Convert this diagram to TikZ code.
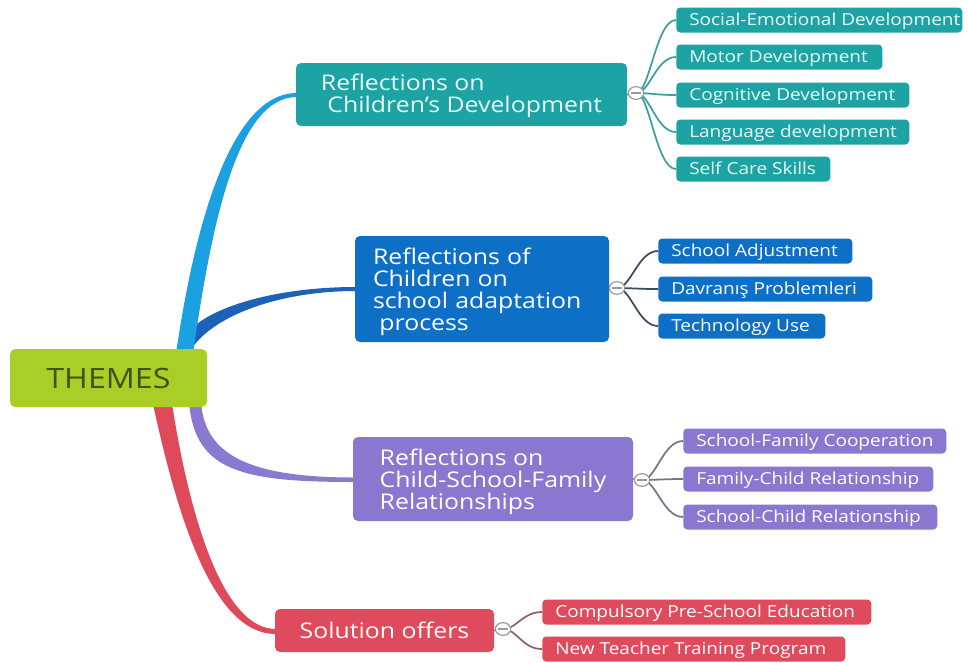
\documentclass[tikz,border=0pt]{standalone}
\usepackage{fontspec}
\setmainfont{Open Sans}[FakeStretch=1.15]
\usetikzlibrary{calc,shapes.geometric}
\pgfdeclarelayer{bg}
\pgfsetlayers{bg,main}

% palette
\definecolor{limefill}{HTML}{AACE28}
\definecolor{olivetext}{HTML}{435210}
\definecolor{tealfill}{HTML}{1DA3A4}
\definecolor{tealtext}{HTML}{E8FBFB}
\definecolor{bluefill}{HTML}{0E6FC7}
\definecolor{purplefill}{HTML}{8A78D0}
\definecolor{redfill}{HTML}{DF4B5C}
\definecolor{skybranch}{HTML}{1BA1E2}
\definecolor{navybranch}{HTML}{1D62B8}
\definecolor{purplebranch}{HTML}{8A79D1}
\definecolor{redbranch}{HTML}{DF4A5B}
\definecolor{tealtwig}{HTML}{3E9FA3}
\definecolor{bluetwig}{HTML}{3A4C60}
\definecolor{purpletwig}{HTML}{77758A}
\definecolor{redtwig}{HTML}{8C6468}
\definecolor{knobgray}{HTML}{9A9A9A}

% type sizes
\newcommand\fsub{\fontsize{12.4pt}{14pt}\selectfont}
\newcommand\fmain{\fontsize{16.2pt}{16.5pt}\selectfont}
\newcommand\ftheme{\fontsize{21pt}{24pt}\selectfont}
% fixed-width, left-aligned label of a leaf box
\newcommand\lb[2]{\makebox[#1pt][l]{#2}}

\tikzset{
  themebox/.style={fill=limefill, text=olivetext, rounded corners=4pt,
    minimum width=147.75pt, minimum height=43.5pt, inner sep=0, font=\ftheme},
  mainbox/.style={fill=#1, text=white, rounded corners=3.75pt, align=left,
    inner sep=0, font=\fmain},
  leafbox/.style={fill=#1, text=white, rounded corners=3pt, anchor=west,
    minimum height=18.75pt, inner xsep=9.75pt, inner ysep=0, font=\fsub,
    text height=10pt, text depth=2pt},
  knob/.style={ellipse, draw=knobgray, fill=white, line width=0.9pt,
    minimum width=11.5pt, minimum height=9.5pt, inner sep=0},
  twig/.style={draw=#1, line width=1.3pt},
}

\begin{document}
\begin{tikzpicture}[x=0.75pt, y=-0.75pt]
\path[use as bounding box] (0,0) rectangle (968,662);

% central theme
\node[themebox] (themes) at (108.5,378) {THEMES};

% main branches
\node[mainbox=tealfill, text=tealtext, minimum width=248.25pt, minimum height=47.25pt]
  (children) at (461.5,94.5) {\rule{0pt}{14pt}Reflections on\\\hspace*{.3em}Children's Development};
\node[mainbox=bluefill, minimum width=190.5pt, minimum height=79.5pt, text width=163.5pt]
  (adapt) at (482,289) {\rule{0pt}{17pt}Reflections of\\Children on\\school adaptation\\\hspace*{.3em}process};
\node[mainbox=purplefill, minimum width=210pt, minimum height=63pt]
  (family) at (493,479) {\rule{0pt}{16pt}Reflections on\\Child-School-Family\\Relationships};
\node[mainbox=redfill, minimum width=164.25pt, minimum height=32.25pt]
  (solution) at (384.5,630.5) {Solution offers};

% collapse knobs
\node[knob] (k1) at (636,93) {};
\node[knob] (k2) at (617,288) {};
\node[knob] (k3) at (642,480) {};
\node[knob] (k4) at (503,629) {};
\foreach \k in {k1,k2,k3,k4}
  \draw[knobgray, line width=0.9pt] ([xshift=-3.6pt]\k.center) -- ([xshift=3.6pt]\k.center);

% leaves: development
\node[leafbox=tealfill, text=tealtext] (d1) at (676,20)  {\lb{195}{Social-Emotional Development}};
\node[leafbox=tealfill, text=tealtext] (d2) at (676,57)  {\lb{135}{Motor Development}};
\node[leafbox=tealfill, text=tealtext] (d3) at (676,95)  {\lb{155.25}{Cognitive Development}};
\node[leafbox=tealfill, text=tealtext] (d4) at (676,132) {\lb{155.25}{Language development}};
\node[leafbox=tealfill, text=tealtext] (d5) at (676,169) {\lb{96}{Self Care Skills}};
% leaves: adaptation
\node[leafbox=bluefill] (a1) at (658,251) {\lb{126}{School Adjustment}};
\node[leafbox=bluefill] (a2) at (658,289) {\lb{141}{Davranış Problemleri}};
\node[leafbox=bluefill] (a3) at (658,326) {\lb{105.75}{Technology Use}};
% leaves: relationships
\node[leafbox=purplefill] (f1) at (683,441) {\lb{177.75}{School-Family Cooperation}};
\node[leafbox=purplefill] (f2) at (683,479) {\lb{168}{Family-Child Relationship}};
\node[leafbox=purplefill] (f3) at (683,517) {\lb{171}{School-Child Relationship}};
% leaves: solutions
\node[leafbox=redfill] (r1) at (542,612) {\lb{227.25}{Compulsory Pre-School Education}};
\node[leafbox=redfill] (r2) at (542,649) {\lb{207.75}{New Teacher Training Program}};

\begin{pgfonlayer}{bg}
  \fill[white] (0,0) rectangle (968,662);

  % tapered branches from the central theme
  \fill[navybranch] ($(themes.north east)+(-15,-1)$) .. controls +(23,-33) and +(-75,0) .. ($(adapt.west)+(1,2)$)
    -- ($(adapt.west)+(1,-2)$) .. controls +(-75,0) and +(25,-25) .. ($(themes.north east)+(-17,-19)$) -- cycle;
  \fill[skybranch] ($(themes.north east)+(-31,3)$) .. controls +(19,-130) and +(-65,0) .. ($(children.west)+(1,-1.5)$)
    -- ($(children.west)+(1,2.5)$) .. controls +(-60,0) and +(18,-125) .. ($(themes.north east)+(-14,3)$) -- cycle;
  \fill[purplebranch] ($(themes.south east)+(-18,-2)$) .. controls +(7,65) and +(-113,0) .. ($(family.west)+(1,3)$)
    -- ($(family.west)+(1,-1.5)$) .. controls +(-113,0) and +(5,45) .. ($(themes.south east)+(-6,-2)$) -- cycle;
  \fill[redbranch] ($(themes.south east)+(-54,-2)$) .. controls +(25,115) and +(-62,0) .. ($(solution.west)+(1,3.5)$)
    -- ($(solution.west)+(1,-1.5)$) .. controls +(-52,0) and +(18,115) .. ($(themes.south east)+(-35,-2)$) -- cycle;

  % stubs to the knobs
  \draw[twig=tealtwig]   (children.east) -- (k1);
  \draw[twig=bluetwig]   (adapt.east)    -- (k2);
  \draw[twig=purpletwig] (family.east)   -- (k3);
  \draw[twig=redtwig]    (solution.east) -- (k4);

  % twigs to the leaves
  \foreach \leaf in {d1,d2,d3,d4,d5}
    \draw[twig=tealtwig] (k1.center) .. controls +(14,0) and +(-20,0) .. (\leaf.west);
  \foreach \leaf in {a1,a2,a3}
    \draw[twig=bluetwig] (k2.center) .. controls +(14,0) and +(-20,0) .. (\leaf.west);
  \foreach \leaf in {f1,f2,f3}
    \draw[twig=purpletwig] (k3.center) .. controls +(14,0) and +(-20,0) .. (\leaf.west);
  \foreach \leaf in {r1,r2}
    \draw[twig=redtwig] (k4.center) .. controls +(14,0) and +(-20,0) .. (\leaf.west);
\end{pgfonlayer}
\end{tikzpicture}
\end{document}
